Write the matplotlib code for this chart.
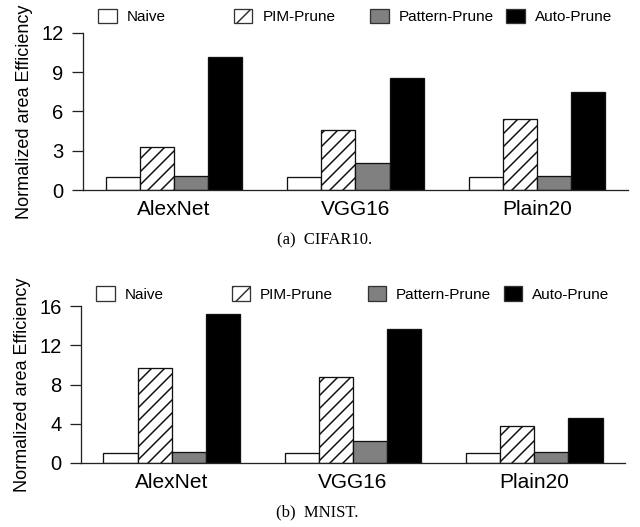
import matplotlib
matplotlib.use("Agg")
import matplotlib.pyplot as plt
import numpy as np
from matplotlib.patches import Patch

DPI = 156
K = 100.0 / DPI  # convert "points at 100 dpi" to points at DPI

plt.rcParams['font.family'] = ['Liberation Sans', 'DejaVu Sans']
plt.rcParams['hatch.linewidth'] = 1.5 * 72 / DPI
plt.rcParams['hatch.color'] = 'black'

models = ["AlexNet", "VGG16", "Plain20"]
methods = ["Naive", "PIM-Prune", "Pattern-Prune", "Auto-Prune"]

cifar_naive = [1.0, 1.0, 1.0]
cifar_pim = [3.3, 4.55, 5.4]
cifar_pattern = [1.1, 2.1, 1.1]
cifar_auto = [10.2, 8.55, 7.5]

mnist_naive = [1.0, 1.0, 1.0]
mnist_pim = [9.7, 8.8, 3.8]
mnist_pattern = [1.1, 2.2, 1.15]
mnist_auto = [15.2, 13.7, 4.6]

cifar_ticks = [0, 3, 6, 9, 12]
mnist_ticks = [0, 4, 8, 12, 16]

styles = [
    dict(facecolor="white", hatch=None),
    dict(facecolor="white", hatch="////"),
    dict(facecolor="#808080", hatch=None),
    dict(facecolor="black", hatch=None),
]

W, H = 641, 527
fig = plt.figure(figsize=(W / DPI, H / DPI), dpi=DPI)
ax1 = fig.add_axes([83 / W, (H - 190) / H, 545 / W, 157 / H])
ax2 = fig.add_axes([81 / W, (H - 463) / H, 544 / W, 157 / H])

legend_x = [0.028, 0.277, 0.527, 0.777]
edge_lw = 1.3 * 72 / DPI
spine_color = "#222222"

def draw(ax, series, ticks, legend_y):
    x = np.arange(len(models))
    w = 0.188
    offsets = (np.arange(4) - 1.5) * w
    for i, vals in enumerate(series):
        ax.bar(x + offsets[i], vals, w, facecolor=styles[i]["facecolor"],
               hatch=styles[i]["hatch"], edgecolor="#111111", linewidth=edge_lw)
    ax.set_xlim(-0.5, 2.5)
    ax.set_ylim(0, ticks[-1])
    ax.set_yticks(ticks)
    ax.set_xticks(x)
    ax.set_xticklabels(models, fontsize=15 * K)
    ax.tick_params(axis='x', length=0, pad=7 * K)
    ax.tick_params(axis='y', labelsize=14.5 * K, length=8 * K, width=edge_lw,
                   pad=6 * K, direction='out', color=spine_color)
    for s in ["top", "right"]:
        ax.spines[s].set_visible(False)
    for s in ["left", "bottom"]:
        ax.spines[s].set_linewidth(edge_lw)
        ax.spines[s].set_color(spine_color)
    ax.set_ylabel("Normalized area Efficiency", fontsize=13 * K, va="center")
    ax.yaxis.set_label_coords(-0.108, 0.5)
    for i, m in enumerate(methods):
        h = Patch(facecolor=styles[i]["facecolor"],
                  hatch=("///" if styles[i]["hatch"] else None),
                  edgecolor="#333333", linewidth=edge_lw)
        lg = matplotlib.legend.Legend(
            ax, [h], [m], loc="center left",
            bbox_to_anchor=(legend_x[i], legend_y), frameon=False,
            fontsize=11 * K, handlelength=1.21, handleheight=1.11,
            handletextpad=0.65, borderaxespad=0.0, borderpad=0.0)
        ax.add_artist(lg)

draw(ax1, [cifar_naive, cifar_pim, cifar_pattern, cifar_auto], cifar_ticks, 1.105)
draw(ax2, [mnist_naive, mnist_pim, mnist_pattern, mnist_auto], mnist_ticks, 1.077)

serif = ["Liberation Serif", "DejaVu Serif"]
fig.text(324.5 / W, 1 - 240 / H, "(a)  CIFAR10.", ha="center", va="center",
         fontsize=12 * K, family=serif)
fig.text(317.5 / W, 1 - 512 / H, "(b)  MNIST.", ha="center", va="center",
         fontsize=12 * K, family=serif)

fig.savefig("out.png", dpi=DPI)
